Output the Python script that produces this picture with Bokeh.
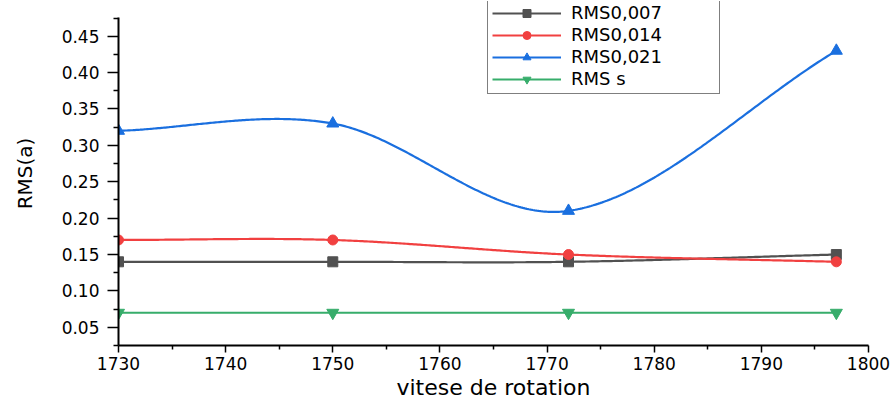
import numpy as np
from bokeh.plotting import figure
from bokeh.models import Range1d, FixedTicker, PrintfTickFormatter, Legend, LegendItem
from bokeh.embed import file_html
from bokeh.resources import INLINE

# ---- data ----
speed = [1730, 1750, 1772, 1797]
rms_007 = [0.14, 0.14, 0.14, 0.15]
rms_014 = [0.17, 0.17, 0.15, 0.14]
rms_021 = [0.32, 0.33, 0.21, 0.43]
rms_s = [0.07, 0.07, 0.07, 0.07]
names = ["RMS0,007", "RMS0,014", "RMS0,021", "RMS s"]
x_ticks = [1730, 1740, 1750, 1760, 1770, 1780, 1790, 1800]
y_ticks = [0.05, 0.10, 0.15, 0.20, 0.25, 0.30, 0.35, 0.40, 0.45]

colors = ["#515151", "#F14040", "#1A6FDF", "#37AD6B"]
markers = ["square", "circle", "triangle", "inverted_triangle"]
FONT = "DejaVu Sans"


def smooth_curve(x, y, n=120):
    """Smooth connecting curve through the data points (cubic Hermite,
    finite-difference tangents)."""
    x = np.asarray(x, float)
    y = np.asarray(y, float)
    k = len(x)
    m = np.zeros(k)
    m[0] = (y[1] - y[0]) / (x[1] - x[0])
    m[-1] = (y[-1] - y[-2]) / (x[-1] - x[-2])
    for i in range(1, k - 1):
        m[i] = (y[i + 1] - y[i - 1]) / (x[i + 1] - x[i - 1])
    xs_all, ys_all = [], []
    for i in range(k - 1):
        h = x[i + 1] - x[i]
        t = np.linspace(0, 1, n)
        h00 = 2 * t ** 3 - 3 * t ** 2 + 1
        h10 = t ** 3 - 2 * t ** 2 + t
        h01 = -2 * t ** 3 + 3 * t ** 2
        h11 = t ** 3 - t ** 2
        ys = h00 * y[i] + h10 * h * m[i] + h01 * y[i + 1] + h11 * h * m[i + 1]
        xs_all.append(x[i] + t * h)
        ys_all.append(ys)
    return np.concatenate(xs_all), np.concatenate(ys_all)


p = figure(width=895, height=402, output_backend="svg", toolbar_location=None,
           x_range=Range1d(1730, 1800), y_range=Range1d(0.025, 0.4977),
           min_border_left=118, min_border_top=1, min_border_right=27,
           min_border_bottom=56)
p.background_fill_color = "white"
p.border_fill_color = "white"
p.outline_line_color = None
p.xgrid.visible = False
p.ygrid.visible = False

items = []
for vals, name, col, mk in zip([rms_007, rms_014, rms_021, rms_s], names, colors, markers):
    xs, ys = smooth_curve(speed, vals)
    r1 = p.line(xs, ys, line_color=col, line_width=2.2)
    sz = 10 if mk in ("square", "circle") else 12
    r2 = p.scatter(speed, vals, marker=mk, size=sz, fill_color=col, line_color=col)
    items.append(LegendItem(label=name, renderers=[r1, r2]))

legend = Legend(items=items, location=(369, 251), orientation="vertical")
legend.border_line_color = "black"
legend.border_line_width = 1
legend.background_fill_alpha = 1.0
legend.label_text_font = FONT
legend.label_text_font_size = "18px"
legend.label_text_color = "black"
legend.glyph_width = 69
legend.glyph_height = 20
legend.label_height = 20
legend.label_width = 144
legend.label_standoff = 10
legend.spacing = 1
legend.padding = 4
legend.margin = 0
p.add_layout(legend)

# axes
xa = p.xaxis[0]
xa.ticker = FixedTicker(ticks=x_ticks, minor_ticks=[1735, 1745, 1755, 1765, 1775, 1785, 1795])
xa.axis_label = "vitese de rotation"
ya = p.yaxis[0]
ya.ticker = FixedTicker(ticks=y_ticks,
                        minor_ticks=[0.025, 0.075, 0.125, 0.175, 0.225, 0.275, 0.325, 0.375, 0.425, 0.475])
ya.formatter = PrintfTickFormatter(format="%.2f")
ya.axis_label = "RMS(a)"
ya.bounds = (0.025, 0.476)

for ax in (xa, ya):
    ax.axis_line_color = "black"
    ax.axis_line_width = 2
    ax.major_tick_line_color = "black"
    ax.minor_tick_line_color = "black"
    ax.major_tick_line_width = 1.5
    ax.minor_tick_line_width = 1.5
    ax.major_tick_in = 0
    ax.minor_tick_in = 0
    ax.major_label_text_font = FONT
    ax.major_label_text_font_size = "17px"
    ax.major_label_text_color = "black"
    ax.axis_label_text_font = FONT
    ax.axis_label_text_font_style = "normal"
    ax.axis_label_text_color = "black"

xa.major_tick_out = 7
xa.minor_tick_out = 4
xa.major_label_standoff = 4
xa.axis_label_standoff = 2
xa.axis_label_text_font_size = "22px"

ya.major_tick_out = 11
ya.minor_tick_out = 5
ya.major_label_standoff = 8
ya.axis_label_standoff = 22
ya.axis_label_text_font_size = "20px"

open("out.html", "w").write(file_html(p, INLINE))
